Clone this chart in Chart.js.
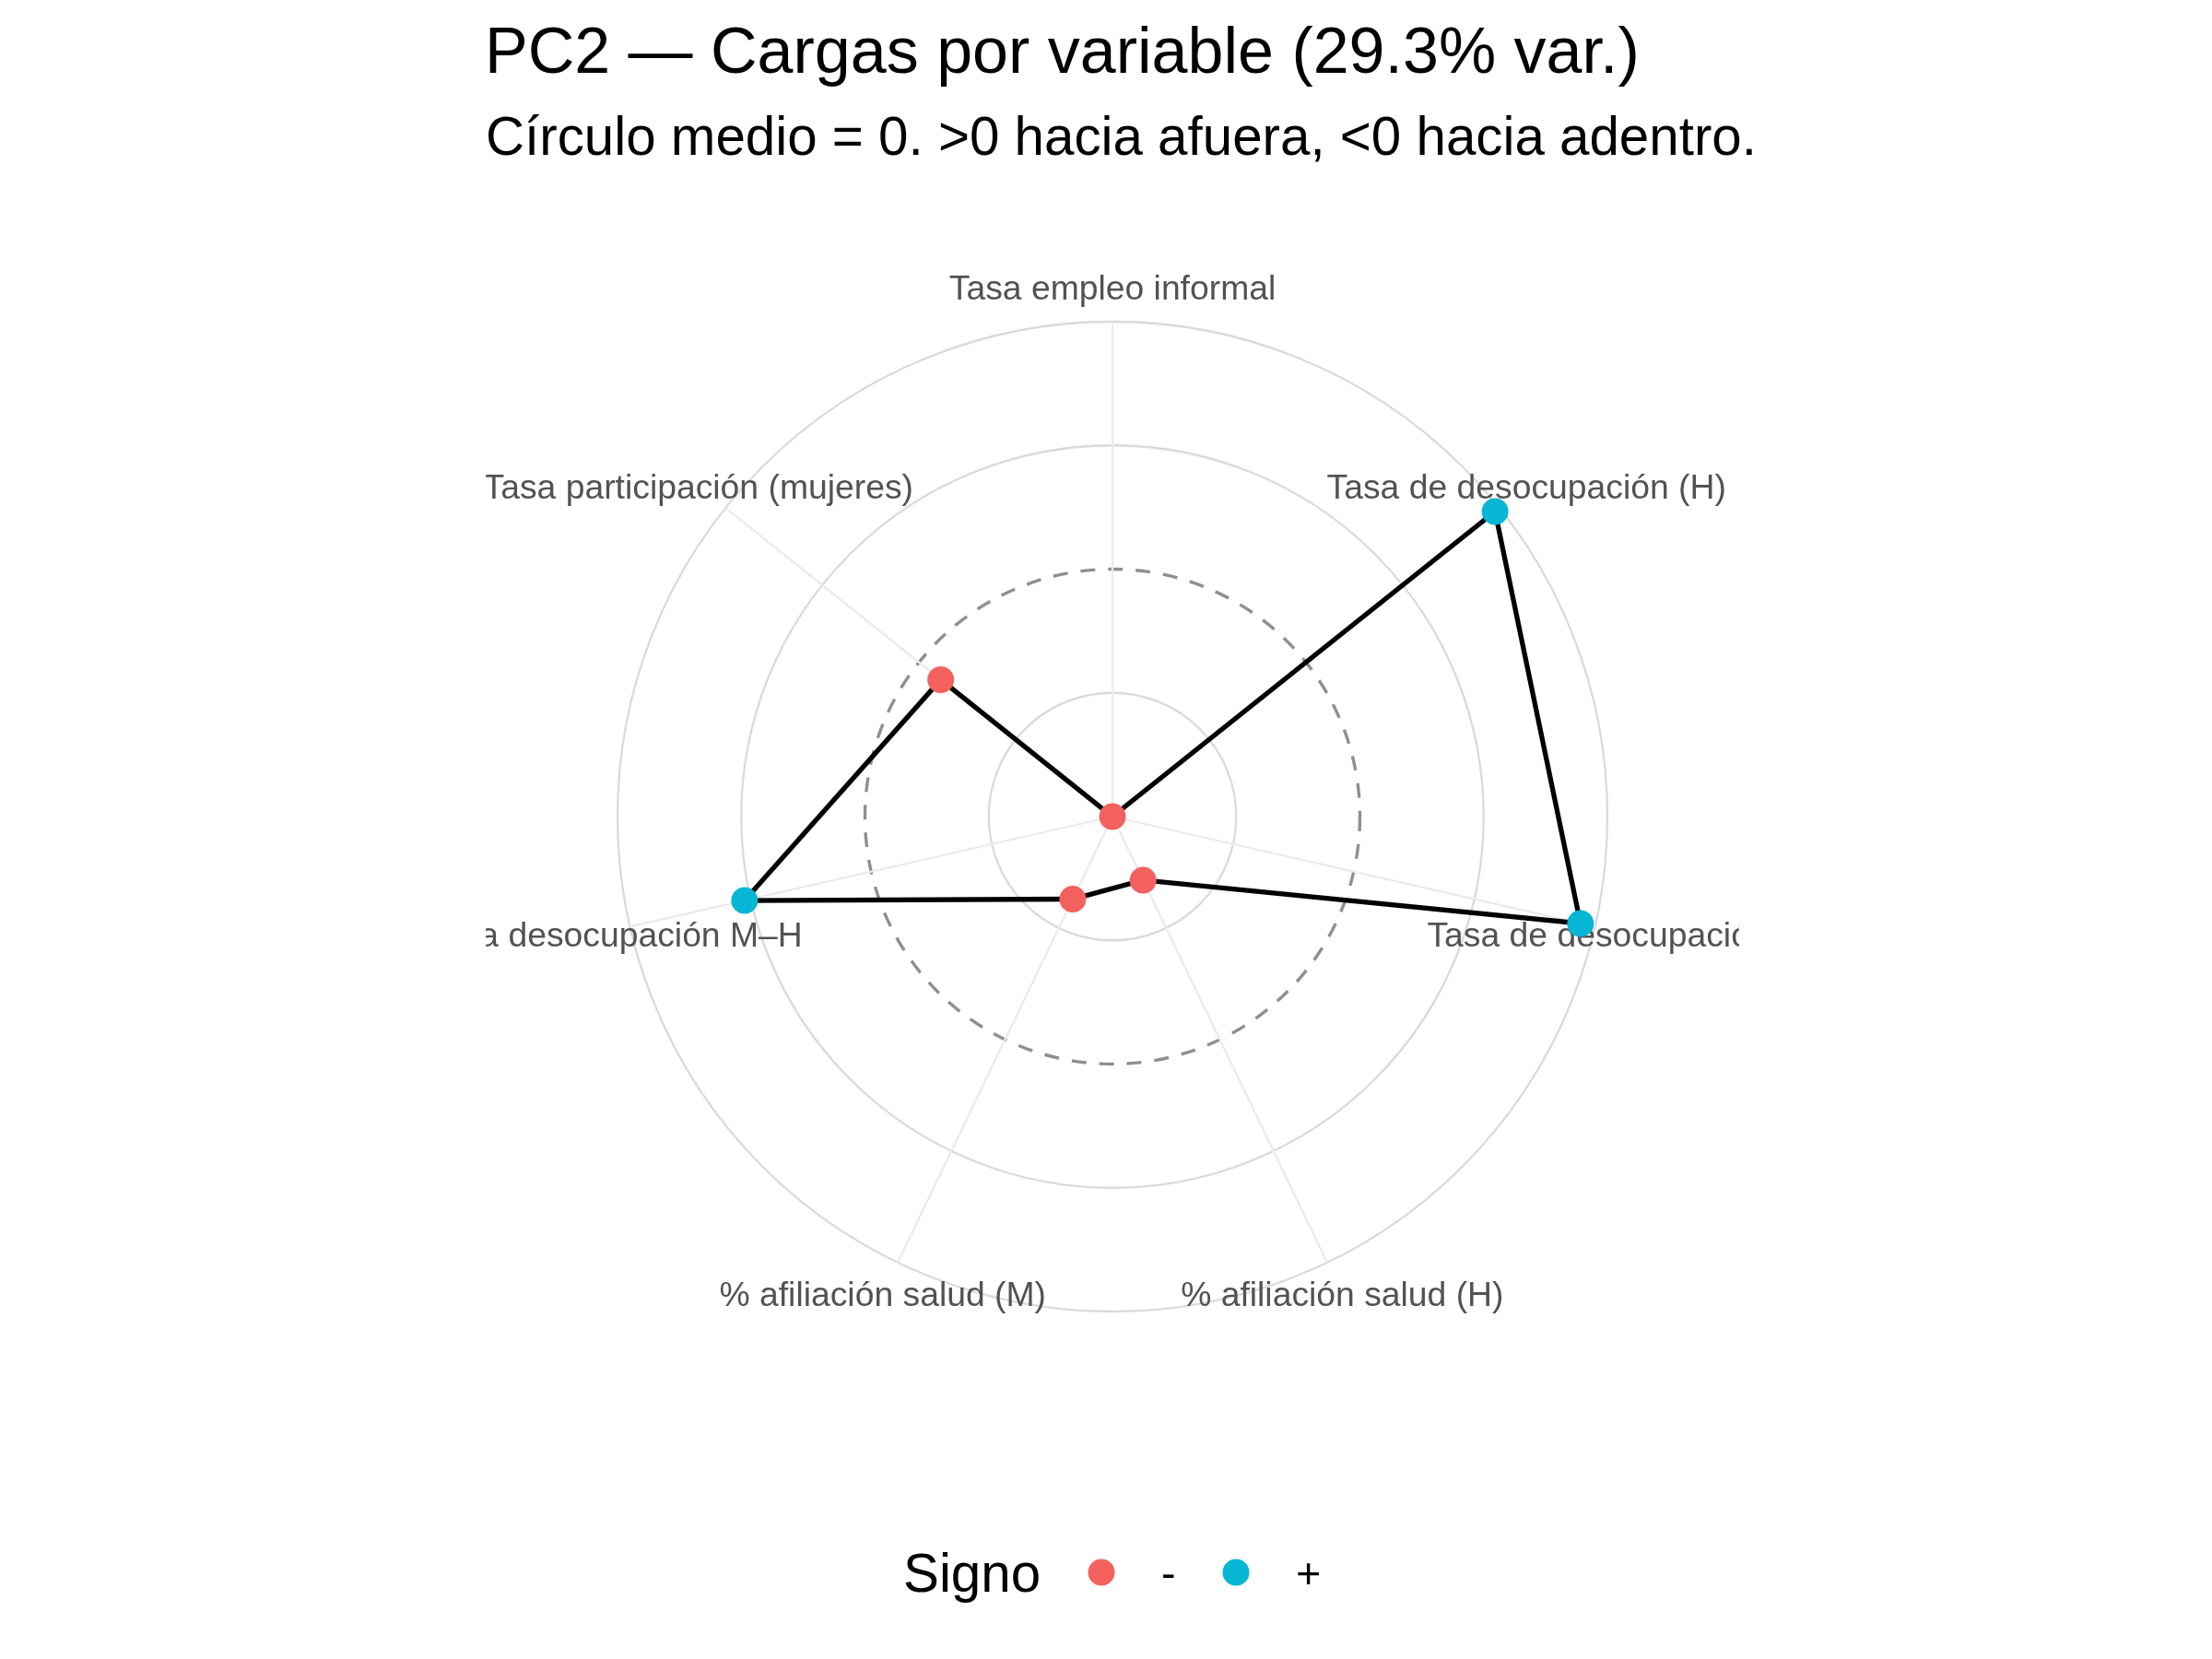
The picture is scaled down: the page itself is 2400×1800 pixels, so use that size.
<!DOCTYPE html>
<html>
<head>
<meta charset="utf-8">
<script src="https://cdn.jsdelivr.net/npm/chart.js@4.4.1/dist/chart.umd.min.js"></script>
<style>
  html, body { margin: 0; padding: 0; background: #fff; }
  #wrap { width: 2400px; height: 1800px; position: relative; }
</style>
</head>
<body>
<div id="wrap"><canvas id="radar"></canvas></div>
<script>
// variables in clockwise order, starting at the top
const variables = [
    "Tasa empleo informal",
    "Tasa de desocupación (H)",
    "Tasa de desocupación (M)",
    "% afiliación salud (H)",
    "% afiliación salud (M)",
    "Brecha desocupación M–H",
    "Tasa participación (mujeres)"
];
// PC2 loadings
const loadings = [-0.40, 0.391, 0.376, -0.286, -0.252, 0.210, -0.045];

const signLabels = ["-", "+"];
const signColors = ["#F3615E", "#06B6D4"];

const radialMin = -0.4;
const radialMax = 0.4;
const radialStep = 0.2;

const titleText = "PC2 — Cargas por variable (29.3% var.)";
const subtitleText = "Círculo medio = 0. >0 hacia afuera, <0 hacia adentro.";
const legendTitle = "Signo";

const FONT = "'Liberation Sans', Arial, Helvetica, sans-serif";

function signColor(v) {
    return v < 0 ? signColors[0] : signColors[1];
}

// text layer: axis labels (clipped to the panel), titles and legend
const textLayer = {
    id: 'textLayer',
    beforeDatasetsDraw(chart) {
        const r = chart.scales.r;
        const ctx = chart.ctx;
        const half = r.drawingArea * 1.266;
        ctx.save();
        ctx.beginPath();
        ctx.rect(r.xCenter - half, r.yCenter - half, half * 2, half * 2);
        ctx.clip();
        ctx.font = "37.3px " + FONT;
        ctx.fillStyle = "#525252";
        ctx.textAlign = "center";
        ctx.textBaseline = "alphabetic";
        variables.forEach((name, i) => {
            const p = r.getPointPosition(i, r.drawingArea * 1.07);
            ctx.fillText(name, p.x, p.y + 13.5);
        });
        ctx.restore();
    },
    afterDraw(chart) {
        const ctx = chart.ctx;
        ctx.save();
        ctx.textAlign = "left";
        ctx.textBaseline = "alphabetic";
        ctx.fillStyle = "#000";

        ctx.font = "70px " + FONT;
        ctx.fillText(titleText, 526, 79);
        ctx.font = "58.3px " + FONT;
        ctx.fillText(subtitleText, 527, 168);

        // legend
        ctx.font = "58.3px " + FONT;
        ctx.fillText(legendTitle, 980, 1727);
        const keyX = [1195, 1341];
        const labelX = [1260, 1406];
        ctx.font = "46.7px " + FONT;
        signLabels.forEach((lab, i) => {
            ctx.beginPath();
            ctx.fillStyle = signColors[i];
            ctx.arc(keyX[i], 1706, 14.5, 0, Math.PI * 2);
            ctx.fill();
            ctx.fillStyle = "#000";
            ctx.fillText(lab, labelX[i], 1722.5);
        });
        ctx.restore();
    }
};

const ctx = document.getElementById('radar').getContext('2d');

const radarChart = new Chart(ctx, {
    type: 'radar',
    data: {
        labels: variables,
        datasets: [
            {
                label: 'PC2',
                data: loadings,
                borderColor: '#000',
                borderWidth: 5.3,
                fill: false,
                tension: 0,
                clip: false,
                pointRadius: 14.5,
                pointHoverRadius: 14.5,
                pointBorderWidth: 0,
                pointBackgroundColor: (c) => signColor(c.raw),
            },
        ],
    },
    options: {
        responsive: true,
        maintainAspectRatio: false,
        animation: false,
        events: [],
        layout: {
            padding: { left: 670, right: 656, top: 349, bottom: 377 }
        },
        plugins: {
            legend: { display: false },
            title: { display: false },
            tooltip: { enabled: false },
        },
        scales: {
            r: {
                min: radialMin,
                max: radialMax,
                ticks: {
                    display: false,
                    stepSize: radialStep,
                },
                pointLabels: { display: false },
                grid: {
                    circular: true,
                    color: (c) => Math.abs(c.tick.value) < 1e-9 ? '#8F8F8F' : '#DADADA',
                    lineWidth: (c) => Math.abs(c.tick.value) < 1e-9 ? 3.4 : 2.3,
                },
                border: {
                    dash: (c) => (c.tick && Math.abs(c.tick.value) < 1e-9) ? [16, 14] : [],
                },
                angleLines: {
                    color: '#EBEBEB',
                    lineWidth: 2.3,
                },
            },
        },
    },
    plugins: [textLayer],
});
</script>
</body>
</html>
